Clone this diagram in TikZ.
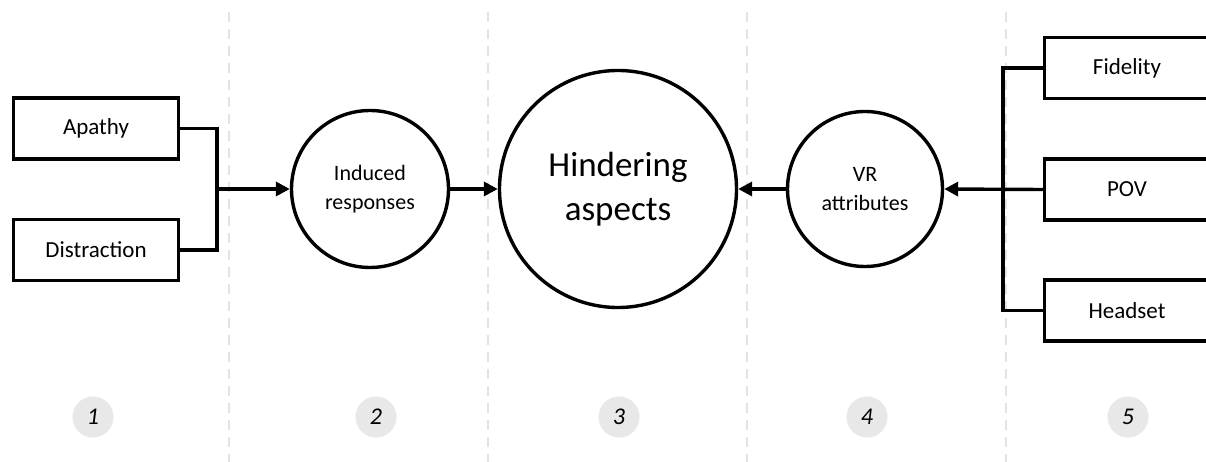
\documentclass[tikz,border=0pt]{standalone}
\usepackage{fontspec}
\setmainfont{Carlito}
\usetikzlibrary{arrows.meta}
\begin{document}
\begin{tikzpicture}[x=1pt,y=-1pt,
  box/.style={draw, line width=3.4pt, minimum width=165pt, minimum height=61pt, inner sep=0pt, font=\fontsize{23}{28}\selectfont},
  circ/.style={draw, circle, line width=3.4pt, inner sep=0pt, align=center},
  conn/.style={line width=3.4pt},
  arr/.style={line width=3.4pt, -{Triangle[length=14pt,width=14pt]}},
  sep/.style={draw=gray!22, line width=2.2pt, dash pattern=on 10pt off 7pt},
  num/.style={circle, fill=gray!18, minimum size=41pt, inner sep=0pt, font=\fontsize{24}{28}\selectfont\itshape}]
\useasboundingbox (0,0) rectangle (1206,462);
\fill[white] (0,0) rectangle (1206,462);
% separators
\foreach \x/\n in {229/a,488/b,747/c,1006/d}
  \draw[sep] (\x,12) coordinate (s\n top) -- (\x,462) coordinate (s\n bot);
% boxes
\node[box] (apathy) at (96,128.5) {Apathy};
\node[box] (distraction) at (96,250) {Distraction};
\node[box] (fidelity) at (1127,68) {Fidelity};
\node[box] (pov) at (1127,189.5) {POV};
\node[box] (headset) at (1127,310.5) {Headset};
% circles
\node[circ, minimum size=157pt, font=\fontsize{22}{29}\selectfont] (induced) at (370,189) {Induced\\responses};
\node[circ, minimum size=237pt, font=\fontsize{35}{44}\selectfont] (hinder) at (618,189) {Hindering\\aspects};
\node[circ, minimum size=155pt, font=\fontsize{22}{29}\selectfont] (vr) at (865,189) {VR\\attributes};
% connectors
\coordinate (j1) at (217,189);
\coordinate (j2) at (1003,189);
\draw[conn] (apathy.east) -| (j1) |- (distraction.east);
\draw[arr] (j1) -- (induced.west);
\draw[arr] (induced.east) -- (hinder.west);
\draw[arr] (vr.west) -- (hinder.east);
\draw[conn] (fidelity.west) -| (j2) |- (headset.west);
\draw[arr] (pov.west) -- (vr.east);
% numbers
\node[num] (n1) at (93,417) {1};
\node[num] (n2) at (376,417) {2};
\node[num] (n3) at (619,417) {3};
\node[num] (n4) at (867,417) {4};
\node[num] (n5) at (1128,417) {5};
\end{tikzpicture}
\end{document}
